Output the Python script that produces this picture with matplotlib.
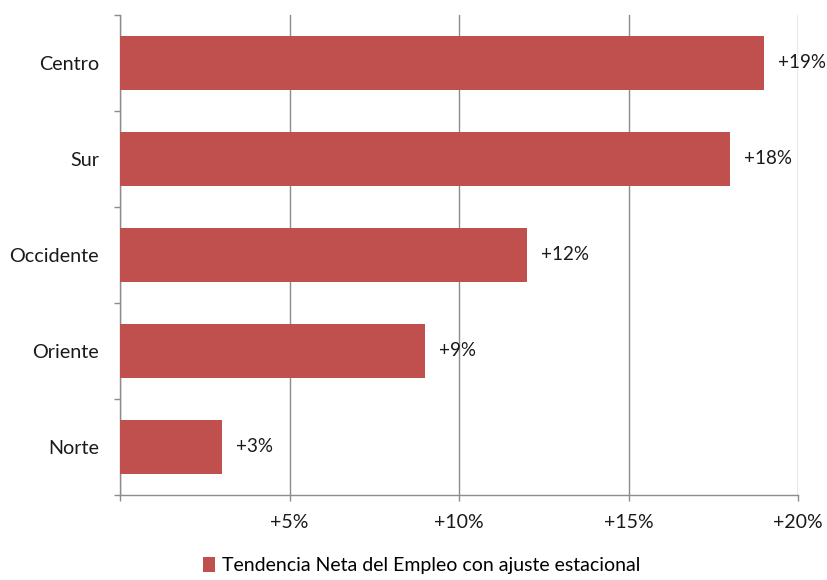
import matplotlib.pyplot as plt
from matplotlib.patches import Patch

regions = ['Centro', 'Sur', 'Occidente', 'Oriente', 'Norte']
values = [19, 18, 12, 9, 3]
xticks = [0, 5, 10, 15, 20]
xtick_labels = ['', '+5%', '+10%', '+15%', '+20%']
series_name = 'Tendencia Neta del Empleo con ajuste estacional'

bar_color = '#C0504D'
grid_color = '#8C8C8C'

plt.rcParams['font.family'] = ['Lato', 'DejaVu Sans']

fig = plt.figure(figsize=(8.27, 5.8), dpi=100)
ax = fig.add_axes([120 / 827, 85 / 580, 678 / 827, 480 / 580])

ypos = list(range(len(regions)))[::-1]
ax.barh(ypos, values, height=0.56, color=bar_color, zorder=3)

for y, v in zip(ypos, values):
    ax.annotate('+{}%'.format(v), xy=(v, y), xytext=(10, 0), textcoords='offset points',
                ha='left', va='center', fontsize=13.5, color='#1a1a1a', zorder=4)

ax.set_xlim(0, 20)
ax.set_ylim(-0.5, len(regions) - 0.5)
ax.set_xticks(xticks)
ax.set_xticklabels(xtick_labels)
ax.set_yticks(ypos)
ax.set_yticklabels(regions)
ax.tick_params(axis='y', length=0, pad=15, labelsize=14.2, labelcolor='#1a1a1a')
ax.tick_params(axis='x', length=4, width=1, color=grid_color, pad=10, labelsize=14, labelcolor='#1a1a1a')

# category boundary ticks on the y axis
ax.set_yticks([i - 0.5 for i in range(len(regions) + 1)], minor=True)
ax.tick_params(axis='y', which='minor', length=4, width=1, color=grid_color)

ax.grid(axis='x', color=grid_color, linewidth=1, zorder=0)
for s in ['top', 'right']:
    ax.spines[s].set_visible(False)
for s in ['left', 'bottom']:
    ax.spines[s].set_color(grid_color)
    ax.spines[s].set_linewidth(1)

handle = Patch(facecolor=bar_color, edgecolor='none')
fig.legend([handle], [series_name], loc='center', bbox_to_anchor=(0.5 + 8 / 827, 13 / 580 + 0.002),
           frameon=False, fontsize=14, handlelength=0.6, handleheight=0.75, handletextpad=0.35)

fig.savefig('out.png', dpi=100)
